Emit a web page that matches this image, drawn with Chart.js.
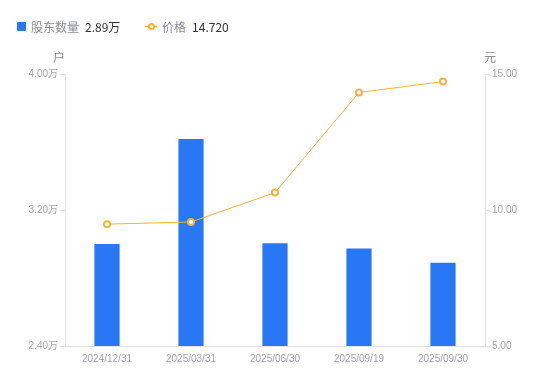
<!DOCTYPE html>
<html lang="zh-CN">
<head>
  <meta charset="UTF-8">
  <title>股东数量与价格</title>
  <script src="https://cdn.jsdelivr.net/npm/chart.js"></script>
  <style>
    body { margin: 0; background: #fff; font-family: "Noto Sans CJK SC", "Noto Sans", Arial; }
    #wrap { position: relative; width: 550px; height: 381px; }
    #legend { position: absolute; left: 17px; top: 15px; font-size: 12px; color: #8a8c99; white-space: nowrap; }
    #legend span { vertical-align: middle; }
    .item { display: inline-block; margin-right: 22px; }
    .val { color: #333; margin-left: 6px; }
    .sq { display: inline-block; width: 9px; height: 9px; background: #2878f5; border-radius: 1px; margin-right: 5px; }
    .ln { display: inline-block; position: relative; width: 12px; height: 9px; margin-right: 5px; }
    .ln:before { content: ""; position: absolute; left: 0; right: 0; top: 4px; height: 1px; background: #f7b23b; }
    .ln:after { content: ""; position: absolute; left: 3px; top: 1px; width: 3px; height: 3px; border: 2px solid #f7b23b; border-radius: 50%; background: #fff; }
    .unit { position: absolute; top: 48px; font-size: 12px; color: #8a8c99; }
  </style>
</head>
<body>
  <div id="wrap">
    <canvas id="c" width="550" height="381"></canvas>
    <div id="legend">
      <span class="item"><span class="sq"></span><span>股东数量</span><span class="val">2.89万</span></span>
      <span class="item"><span class="ln"></span><span>价格</span><span class="val">14.720</span></span>
    </div>
    <div class="unit" style="left:53px">户</div>
    <div class="unit" style="left:484px">元</div>
  </div>

  <script>
    const dates = ['2024/12/31', '2025/03/31', '2025/06/30', '2025/09/19', '2025/09/30'];
    const holders = [30000, 36170, 30040, 29740, 28900];
    const prices = [9.48, 9.56, 10.64, 14.32, 14.72];

    const tickColor = '#a3a5b3';
    const axisColor = '#e3e3e8';
    const tickFont = { family: 'Liberation Sans, Arial', size: 10 };

    new Chart(document.getElementById('c'), {
      data: {
        labels: dates,
        datasets: [
          {
            type: 'line',
            data: prices,
            yAxisID: 'y1',
            borderColor: '#f7b23b',
            borderWidth: 1,
            pointRadius: 3,
            pointBorderWidth: 2,
            pointBackgroundColor: '#fff',
            pointBorderColor: '#f7b23b',
            tension: 0
          },
          {
            type: 'bar',
            data: holders,
            yAxisID: 'y',
            backgroundColor: '#2878f5',
            barPercentage: 0.3,
            categoryPercentage: 1
          }
        ]
      },
      options: {
        responsive: false,
        animation: false,
        layout: { padding: { top: 74, left: 0, right: 0, bottom: 0 } },
        plugins: { legend: { display: false }, tooltip: { enabled: false } },
        scales: {
          x: {
            grid: { display: false, drawTicks: false },
            border: { display: true, color: axisColor },
            ticks: { color: tickColor, font: tickFont, padding: 7 },
            afterFit: s => { s.height = 35; }
          },
          y: {
            position: 'left',
            min: 24000, max: 40000,
            grid: { drawOnChartArea: false, color: axisColor, tickLength: 5 },
            border: { display: true, color: axisColor },
            ticks: {
              stepSize: 8000, color: tickColor, font: tickFont, padding: 2,
              callback: v => (v / 10000).toFixed(2) + '万'
            },
            afterFit: s => { s.width = 65; }
          },
          y1: {
            position: 'right',
            min: 5, max: 15,
            grid: { drawOnChartArea: false, color: axisColor, tickLength: 5 },
            border: { display: true, color: axisColor },
            ticks: {
              stepSize: 5, color: tickColor, font: tickFont, padding: 2,
              callback: v => v.toFixed(2)
            },
            afterFit: s => { s.width = 65; }
          }
        }
      }
    });
  </script>
</body>
</html>
